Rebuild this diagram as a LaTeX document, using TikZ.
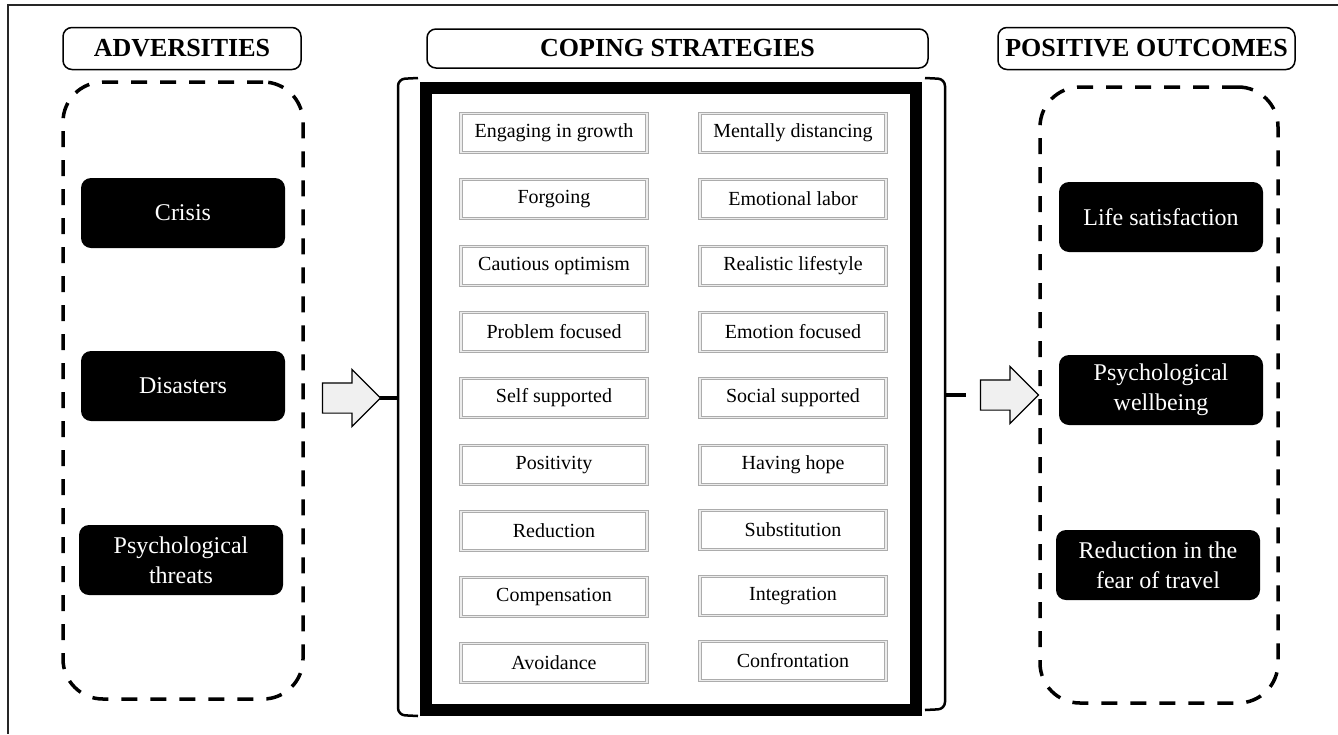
\documentclass[tikz,border=0pt]{standalone}
\usepackage{fontspec}
\setmainfont{Liberation Serif}
\usetikzlibrary{shapes.arrows}

\begin{document}
\begin{tikzpicture}[x=1pt, y=-1pt,
  header/.style={draw, line width=1.5, rounded corners=9, minimum height=42, fill=white, font=\fontsize{26}{28}\selectfont\bfseries},
  groupbox/.style={draw, line width=3.5, dash pattern=on 16pt off 13pt, rounded corners=40},
  blackbox/.style={fill=black, text=white, rounded corners=10, minimum width=204, minimum height=70, align=center, font=\fontsize{24}{30}\selectfont},
  strategy/.style={draw=gray!65, double=gray!15, double distance=1.5, line width=1, fill=white, minimum width=186, minimum height=39, font=\fontsize{20}{22}\selectfont},
  bigarrow/.style={single arrow, draw, line width=1.2, fill=gray!12, minimum height=58, inner xsep=0, inner ysep=14.5, single arrow head extend=13.5}]
\useasboundingbox (0,0) rectangle (1338,734);

% frame
\draw[line width=1.5, black!85] (1338,5) -- (8,5) -- (8,734);

% headers
\node[header, minimum width=238] (adversities) at (182,48.5) {ADVERSITIES};
\node[header, minimum width=501, minimum height=39] (coping) at (677.5,48.5) {COPING STRATEGIES};
\node[header, minimum width=297] (outcomes) at (1146.5,48.5) {POSITIVE OUTCOMES};

% adversities
\node[groupbox, minimum width=240, minimum height=617] (adv group) at (183,390.5) {};
\node[blackbox] (crisis) at (183,213) {Crisis};
\node[blackbox] (disasters) at (183,386) {Disasters};
\node[blackbox] (threats) at (181,560) {Psychological\\threats};

% positive outcomes
\node[groupbox, minimum width=238, minimum height=616] (out group) at (1159,395) {};
\node[blackbox] (life) at (1161,217) {Life satisfaction};
\node[blackbox] (wellbeing) at (1161,390) {Psychological\\wellbeing};
\node[blackbox] (fear) at (1158,565) {Reduction in the\\fear of travel};

% coping strategies
\node[draw, line width=12, minimum width=490, minimum height=622] (panel) at (671,399) {};

\node[strategy] (growth) at (554,133) {Engaging in growth};
\node[strategy] (forgoing) at (554,199) {Forgoing};
\node[strategy] (optimism) at (554,266) {Cautious optimism};
\node[strategy] (problem) at (554,332) {Problem focused};
\node[strategy] (self) at (554,398) {Self supported};
\node[strategy] (positivity) at (554,465) {Positivity};
\node[strategy] (reduction) at (554,531) {Reduction};
\node[strategy] (compensation) at (554,597) {Compensation};
\node[strategy] (avoidance) at (554,663) {Avoidance};

\node[strategy] (distancing) at (793,133) {Mentally distancing};
\node[strategy] (labor) at (793,199) {Emotional labor};
\node[strategy] (lifestyle) at (793,266) {Realistic lifestyle};
\node[strategy] (emotion) at (793,332) {Emotion focused};
\node[strategy] (social) at (793,398) {Social supported};
\node[strategy] (hope) at (793,465) {Having hope};
\node[strategy] (substitution) at (793,530) {Substitution};
\node[strategy] (integration) at (793,596) {Integration};
\node[strategy] (confrontation) at (793,661) {Confrontation};

% brackets
\draw[line width=2.5, rounded corners=7] (418,78) -- (398,79) -- (398,715) -- (418,716);
\draw[line width=3.5] (398,398) -- (378,398);
\draw[line width=2.5, rounded corners=7] (925,78) -- (945,79) -- (945,709) -- (925,710);
\draw[line width=3.5] (945,395) -- (966,395);

% block arrows
\node[bigarrow] (in arrow) at (344,398) {};
\node[bigarrow] (out arrow) at (1002,395) {};
\end{tikzpicture}
\end{document}
